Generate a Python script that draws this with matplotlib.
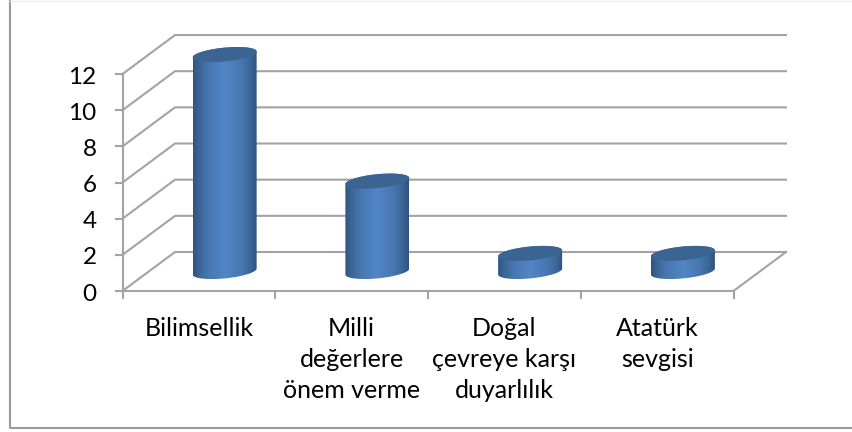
import numpy as np
import matplotlib
matplotlib.use("Agg")
import matplotlib.pyplot as plt
from matplotlib.colors import LinearSegmentedColormap
from matplotlib.patches import Polygon

# Datos
categorias = ["Bilimsellik", "Milli\ndeğerlere\nönem verme", "Doğal\nçevreye karşı\nduyarlılık", "Atatürk\nsevgisi"]
valores = [12, 5, 1, 1]
ticks_y = [0, 2, 4, 6, 8, 10, 12]

W, H = 852, 432
plt.rcParams["font.family"] = ["Lato", "DejaVu Sans"]

fig = plt.figure(figsize=(W / 100, H / 100), dpi=100)
ax = fig.add_axes([0, 0, 1, 1])
ax.axis("off")

# ejes: una categoria = 152.75 px, una unidad = 18.08 px
ux, uy = 152.75, 18.08
x0, y0 = 122.5, 291
ax.set_xlim(-x0 / ux, (W - x0) / ux)
ax.set_ylim(-(H - y0) / uy, y0 / uy)

n = len(categorias)
dx, dy = 52.5 / ux, 39 / uy
gris = "#a3a3a3"
lw = 1.5

# marco exterior: izquierda y abajo fuertes, arriba muy claro, sin lado derecho
fx0, fx1 = (9.5 - x0) / ux, (W - x0) / ux
fy0, fy1 = (y0 - 427.5) / uy, (y0 - 0.5) / uy
ax.plot([fx0, fx0, fx1], [fy1, fy0, fy0], color="#9a9a9a", lw=1.5)
ax.plot([fx0, fx1], [fy1, fy1], color="#eeeeee", lw=1)

# rejilla, pared lateral y suelo
for t in ticks_y:
    ax.plot([0, dx, n + dx], [t, t + dy, t + dy], color=gris, lw=lw, zorder=1)
    ax.plot([-7 / ux, 0], [t, t], color=gris, lw=lw, zorder=1)
    ax.text(-26 / ux, t - 0.17, str(t), ha="right", va="center", fontsize=17.5, color="black")
ax.plot([0, 0], [0, ticks_y[-1]], color=gris, lw=lw, zorder=1)
ax.plot([0, n, n + dx], [0, 0, dy], color=gris, lw=lw, zorder=1)
for i in range(n + 1):
    ax.plot([i, i], [0, -7 / uy], color=gris, lw=lw, zorder=1)

# cilindros
cmap = LinearSegmentedColormap.from_list(
    "cil",
    [(0, "#31557f"), (0.1, "#3c6698"), (0.25, "#4878b2"), (0.5, "#5285c6"),
     (0.75, "#4878b2"), (0.9, "#3c6698"), (1, "#2f5280")],
)
a = 32 / ux
b = 6.9 / uy
s = 3 / uy
for i, v in enumerate(valores):
    cx = i + 0.5 + dx / 2 - 0.5 / ux
    cy = dy / 2
    # contorno del cuerpo: arco inferior de la base + arco superior de la tapa
    t_inf = np.linspace(np.pi, 2 * np.pi, 100)
    t_sup = np.linspace(0, np.pi, 100)
    bx = cx + a * np.cos(t_inf)
    by = cy + b * np.sin(t_inf) + s * np.cos(t_inf)
    tx = cx + a * np.cos(t_sup)
    ty = cy + v + b * np.sin(t_sup) + s * np.cos(t_sup)
    cuerpo = Polygon(np.column_stack([np.r_[bx, tx], np.r_[by, ty]]), closed=True, fc="none", ec="none")
    ax.add_patch(cuerpo)
    im = ax.imshow(
        np.linspace(0, 1, 128).reshape(1, -1), cmap=cmap, aspect="auto",
        extent=[cx - a, cx + a, cy - b - s, cy + v + b + s], zorder=3,
    )
    im.set_clip_path(cuerpo)
    tt = np.linspace(0, 2 * np.pi, 200)
    ax.fill(cx + a * np.cos(tt), cy + v + b * np.sin(tt) + s * np.cos(tt), color="#3b6492", lw=0, zorder=4)

# imshow cambia los limites
ax.set_xlim(-x0 / ux, (W - x0) / ux)
ax.set_ylim(-(H - y0) / uy, y0 / uy)

# etiquetas de categoria
for i, c in enumerate(categorias):
    ax.text(i + 0.5, -(317 - y0) / uy, c, ha="center", va="top", fontsize=18,
            color="black", linespacing=1.42)

fig.savefig("out.png", dpi=100)
